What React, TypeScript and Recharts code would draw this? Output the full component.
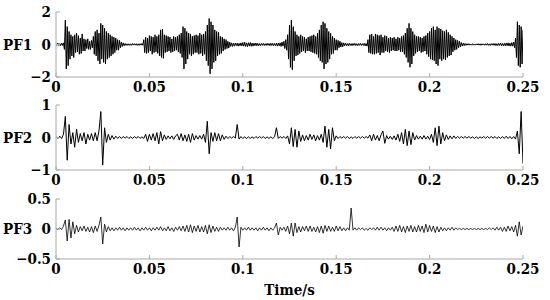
import React from 'react';
import { LineChart, Line, XAxis, YAxis, Label } from 'recharts';

// sample intervals of the recorded signals (s)
const STEP_PF1 = 0.0005;
const STEP_PF2 = 0.001;
const STEP_PF3 = 0.001;

const PF1: number[] = [
  0.06,-0.05,0.08,-0.06,0.05,-0.07,0.09,-0.06,0.1,-0.3,
  1.5,-1.5,1.1,-1.3,0.8,-0.9,0.6,-0.7,0.5,-0.8,
  0.6,-0.5,0.7,-0.45,0.55,-0.6,0.4,-0.55,0.65,-0.4,
  0.35,-0.4,0.3,-0.25,0.35,-0.3,0.2,-0.3,0.25,-0.2,
  0.5,-0.6,0.8,-0.7,0.9,-1.0,0.7,-1.2,1.3,-0.9,
  1.2,-1.1,1.0,-1.2,0.8,-0.9,0.7,-0.8,0.6,-0.7,
  0.5,-0.6,0.45,-0.5,0.4,-0.35,0.3,-0.35,0.25,-0.2,
  0.15,-0.12,0.1,-0.08,0.06,-0.05,0.04,-0.05,0.04,-0.05,
  0.04,-0.05,0.06,-0.04,0.05,-0.04,0.05,-0.06,0.04,-0.05,
  0.05,-0.04,0.06,-0.05,0.3,-0.5,0.45,-0.55,0.4,-0.5,
  0.55,-0.4,0.5,-0.6,0.45,-0.5,0.6,-0.45,0.5,-0.55,
  0.6,-0.7,0.9,-0.8,0.95,-0.85,0.6,-0.5,0.55,-0.45,
  0.5,-0.4,0.45,-0.5,0.35,-0.45,0.5,-0.4,0.45,-0.35,
  0.5,-0.45,0.6,-0.55,0.7,-0.8,1.1,-1.5,1.0,-1.2,
  0.8,-0.9,0.7,-0.6,0.65,-0.7,0.5,-0.6,0.55,-0.5,
  0.6,-0.5,0.55,-0.6,0.7,-0.55,0.6,-0.7,0.65,-0.6,
  0.8,-1.0,1.2,-1.3,1.6,-1.8,1.4,-1.5,1.2,-1.1,
  0.9,-1.0,0.8,-0.7,0.75,-0.6,0.5,-0.55,0.45,-0.4,
  0.35,-0.3,0.3,-0.25,0.2,-0.22,0.15,-0.12,0.1,-0.12,
  0.08,-0.1,0.09,-0.07,0.08,-0.1,0.07,-0.08,0.1,-0.09,
  0.12,-0.1,0.14,-0.12,0.1,-0.13,0.11,-0.1,0.12,-0.11,
  0.09,-0.1,0.08,-0.07,0.09,-0.08,0.07,-0.08,0.06,-0.07,
  0.06,-0.05,0.07,-0.06,0.05,-0.06,0.07,-0.05,0.06,-0.07,
  0.08,-0.06,0.07,-0.08,0.06,-0.07,0.08,-0.1,0.09,-0.08,
  0.1,-0.12,0.15,-0.1,0.2,-0.25,0.3,-0.35,0.6,-0.9,
  1.2,-1.4,1.5,-1.55,1.1,-1.0,0.8,-0.7,0.6,-0.65,
  0.5,-0.55,0.6,-0.45,0.5,-0.4,0.45,-0.5,0.35,-0.4,
  0.45,-0.4,0.5,-0.45,0.55,-0.5,0.6,-0.55,0.5,-0.6,
  0.7,-0.8,0.9,-1.0,1.2,-1.1,1.4,-1.5,1.3,-1.2,
  1.0,-1.1,0.8,-0.9,0.7,-0.6,0.5,-0.55,0.4,-0.35,
  0.3,-0.35,0.25,-0.2,0.2,-0.15,0.12,-0.14,0.1,-0.08,
  0.08,-0.07,0.06,-0.08,0.07,-0.06,0.05,-0.07,0.06,-0.05,
  0.07,-0.06,0.05,-0.07,0.06,-0.05,0.07,-0.06,0.05,-0.06,
  0.07,-0.08,0.06,-0.1,0.3,-0.5,0.6,-0.55,0.65,-0.6,
  0.5,-0.6,0.65,-0.55,0.6,-0.5,0.55,-0.65,0.6,-0.5,
  0.45,-0.5,0.55,-0.4,0.5,-0.45,0.4,-0.5,0.45,-0.4,
  0.4,-0.35,0.45,-0.4,0.35,-0.4,0.45,-0.35,0.4,-0.45,
  0.5,-0.45,0.55,-0.6,0.7,-0.8,1.0,-1.1,1.3,-1.4,
  1.0,-1.2,0.8,-0.7,0.6,-0.55,0.5,-0.45,0.5,-0.4,
  0.45,-0.5,0.4,-0.45,0.5,-0.4,0.55,-0.6,0.7,-0.75,
  0.8,-0.9,1.0,-0.95,1.1,-1.0,0.9,-1.2,1.1,-1.3,
  1.0,-0.9,0.95,-1.0,0.85,-0.9,0.8,-0.95,0.9,-0.8,
  0.75,-0.7,0.6,-0.65,0.5,-0.45,0.4,-0.35,0.3,-0.3,
  0.25,-0.2,0.2,-0.15,0.12,-0.1,0.08,-0.07,0.06,-0.05,
  0.05,-0.04,0.05,-0.04,0.03,-0.04,0.05,-0.04,0.03,-0.04,
  0.04,-0.03,0.05,-0.04,0.04,-0.05,0.04,-0.03,0.04,-0.05,
  0.05,-0.04,0.06,-0.05,0.04,-0.06,0.05,-0.04,0.06,-0.05,
  0.06,-0.07,0.05,-0.06,0.07,-0.06,0.08,-0.07,0.06,-0.08,
  0.07,-0.08,0.09,-0.07,0.1,-0.09,0.08,-0.1,0.12,-0.1,
  0.15,-0.2,0.4,-0.8,1.4,-1.3,1.2,-1.4,1.1,-1.2,
  0.9,
];

const PF2: number[] = [
  0.03,-0.03,0.04,-0.03,0.1,0.65,-0.7,0.4,-0.2,0.15,
  -0.3,0.25,-0.15,0.12,-0.1,0.15,-0.2,0.1,-0.08,0.12,
  -0.1,0.15,-0.1,0.2,0.8,-0.85,0.3,-0.15,0.1,-0.08,
  0.06,-0.05,0.04,-0.03,0.03,-0.03,0.03,-0.02,0.03,-0.03,
  0.02,-0.03,0.03,-0.02,0.03,-0.03,0.02,-0.03,0.1,-0.12,
  0.1,-0.08,0.12,-0.1,0.15,-0.2,0.18,-0.1,0.08,-0.06,
  0.05,-0.04,0.05,-0.06,0.05,0.1,-0.08,0.12,-0.1,0.08,
  -0.12,0.1,-0.15,0.12,-0.08,0.06,-0.05,0.06,-0.05,0.1,
  -0.15,0.5,-0.5,0.15,-0.12,0.15,-0.1,0.12,-0.1,0.08,
  -0.06,0.04,-0.03,0.03,-0.02,0.03,-0.02,0.4,-0.05,0.03,
  -0.03,0.02,-0.03,0.02,-0.03,0.02,-0.03,0.03,-0.02,0.03,
  -0.02,0.03,-0.03,0.02,-0.03,0.02,-0.03,0.02,0.3,-0.03,
  0.03,-0.02,0.03,-0.03,0.05,-0.2,0.3,-0.28,0.25,-0.3,
  0.2,-0.12,0.08,-0.1,0.06,-0.08,0.1,-0.06,0.08,-0.1,
  0.06,-0.08,0.1,-0.15,0.35,-0.3,0.25,-0.35,0.3,-0.1,
  0.05,-0.03,0.03,-0.02,0.03,-0.02,0.03,-0.03,0.02,-0.03,
  0.03,-0.02,0.03,-0.02,0.03,-0.02,0.03,-0.02,0.08,-0.1,
  0.1,-0.08,0.06,-0.1,0.08,0.2,-0.18,0.06,-0.05,0.04,
  -0.06,0.05,-0.08,0.1,-0.12,0.15,-0.2,0.25,-0.25,0.2,
  -0.22,0.15,-0.08,0.06,-0.05,0.04,-0.05,0.06,-0.05,0.04,
  -0.06,0.1,-0.15,0.3,-0.25,0.35,-0.2,0.15,-0.1,0.08,
  -0.06,0.05,-0.04,0.05,-0.03,0.03,-0.02,0.03,-0.02,0.03,
  -0.02,0.03,-0.02,0.02,-0.03,0.02,-0.03,0.02,-0.02,0.03,
  -0.02,0.03,-0.02,0.03,-0.02,0.03,-0.03,0.02,-0.03,0.03,
  -0.03,0.04,-0.03,0.03,-0.04,0.03,-0.05,0.2,-0.5,0.8,
  -0.8,
];

const PF3: number[] = [
  0.01,-0.01,0.02,-0.01,0.05,0.15,-0.2,0.16,-0.15,0.12,
  -0.08,0.06,-0.05,0.04,-0.03,0.05,-0.04,0.03,-0.05,0.04,
  -0.06,0.05,-0.04,0.06,0.2,-0.25,0.08,-0.05,0.04,-0.03,
  0.02,-0.03,0.02,-0.02,0.03,-0.02,0.02,-0.03,0.02,-0.02,
  0.02,-0.02,0.03,-0.02,0.02,-0.03,0.02,-0.02,0.03,-0.02,
  0.02,-0.03,0.02,-0.02,0.03,-0.02,0.04,-0.03,0.02,-0.03,
  0.04,-0.03,0.02,-0.04,0.03,-0.02,0.04,-0.03,0.05,-0.04,
  0.06,-0.05,0.07,-0.06,0.05,-0.04,0.06,-0.05,0.04,-0.05,
  0.06,-0.08,0.07,-0.06,0.05,-0.04,0.03,-0.04,0.03,-0.02,
  0.02,-0.02,0.03,-0.02,0.02,-0.03,0.03,0.2,-0.3,0.03,
  -0.02,0.02,-0.02,0.03,-0.02,0.02,-0.02,0.02,-0.03,0.02,
  -0.02,0.03,-0.02,0.02,-0.03,0.02,-0.02,0.02,0.1,-0.1,
  0.03,-0.02,0.03,-0.04,0.05,-0.08,0.1,-0.12,0.1,-0.06,
  0.04,-0.05,0.04,-0.03,0.05,-0.04,0.05,-0.04,0.03,-0.05,
  0.04,-0.06,0.05,-0.07,0.06,-0.04,0.05,-0.04,0.03,-0.04,
  0.05,-0.03,0.04,-0.03,0.02,-0.03,0.02,-0.02,0.35,-0.02,
  0.02,-0.02,0.02,-0.01,0.02,-0.02,0.01,-0.02,0.02,-0.01,
  0.02,-0.02,0.03,-0.02,0.03,-0.02,0.02,-0.03,0.02,-0.02,
  0.03,-0.04,0.05,-0.04,0.06,-0.05,0.04,-0.06,0.05,-0.04,
  0.06,-0.05,0.04,-0.05,0.06,-0.04,0.05,-0.06,0.08,-0.05,
  0.06,-0.04,0.05,-0.06,0.04,-0.05,0.03,-0.03,0.02,-0.03,
  0.02,-0.02,0.03,-0.02,0.02,-0.01,0.01,-0.01,0.01,-0.01,
  0.01,-0.01,0.01,-0.01,0.01,-0.01,0.01,-0.01,0.01,-0.01,
  0.01,-0.01,0.02,-0.01,0.02,-0.02,0.03,-0.02,0.03,-0.04,
  0.03,-0.04,0.05,-0.03,0.04,-0.05,0.06,-0.12,0.12,-0.1,
  0.05,
];

const X_TICKS = [0, 0.05, 0.1, 0.15, 0.2, 0.25];
const PF1_TICKS = [-2, 0, 2];
const PF2_TICKS = [-1, 0, 1];
const PF3_TICKS = [-0.5, 0, 0.5];
const LABELS = ['PF1', 'PF2', 'PF3'];
const X_LABEL = 'Time/s';

const toRows = (vals: number[], step: number) =>
  vals.map((v, i) => ({ t: +(i * step).toFixed(4), v }));

const FONT = '"DejaVu Serif Condensed", "DejaVu Serif", serif';
const textStyle = { fontFamily: FONT, fontWeight: 700, fontSize: 15, fill: '#000', fontStretch: 'condensed' };
const BOX = '#a8a8a8';
const fmt = (v: number) => (v < 0 ? '\u2212' + String(Math.abs(v)) : String(v));

interface PanelProps {
  vals: number[];
  step: number;
  ticks: number[];
  label: string;
  top: number;
  height: number;
  marginTop: number;
  xAxisHeight: number;
  strokeWidth: number;
  xLabel?: string;
}

function Panel({ vals, step, ticks, label, top, height, marginTop, xAxisHeight, strokeWidth, xLabel }: PanelProps) {
  const dom: [number, number] = [ticks[0], ticks[ticks.length - 1]];
  return (
    <div style={{ position: 'absolute', left: 0, top, width: 550, height }}>
      <LineChart
        width={550}
        height={height}
        data={toRows(vals, step)}
        margin={{ top: marginTop, right: 27, bottom: 0, left: 0 }}
      >
        <XAxis
          xAxisId="b"
          dataKey="t"
          type="number"
          domain={[0, 0.25]}
          ticks={X_TICKS}
          height={xAxisHeight}
          tick={{ style: textStyle }}
          tickFormatter={(v: number) => String(v)}
          tickSize={-4}
          tickMargin={8}
          tickLine={{ stroke: BOX }}
          axisLine={{ stroke: BOX }}
          interval={0}
          allowDataOverflow
        >
          {xLabel ? (
            <Label value={xLabel} position="insideBottom" offset={5} style={textStyle} />
          ) : null}
        </XAxis>
        <XAxis
          xAxisId="top"
          orientation="top"
          type="number"
          dataKey="t"
          domain={[0, 0.25]}
          ticks={X_TICKS}
          height={0}
          tick={false}
          tickSize={-4}
          tickLine={{ stroke: BOX }}
          axisLine={{ stroke: BOX }}
          interval={0}
        />
        <YAxis
          yAxisId="l"
          type="number"
          domain={dom}
          ticks={ticks}
          width={56}
          tick={{ style: textStyle }}
          tickFormatter={fmt}
          tickSize={-4}
          tickMargin={9}
          tickLine={{ stroke: BOX }}
          axisLine={{ stroke: BOX }}
          interval={0}
          allowDataOverflow
        >
          <Label value={label} position="insideLeft" offset={3} style={textStyle} />
        </YAxis>
        <YAxis
          yAxisId="r"
          orientation="right"
          type="number"
          domain={dom}
          ticks={ticks}
          width={0}
          tick={false}
          tickLine={false}
          axisLine={{ stroke: BOX }}
        />
        <Line
          xAxisId="b"
          yAxisId="l"
          dataKey="v"
          type="linear"
          stroke="#000"
          strokeWidth={strokeWidth}
          dot={false}
          activeDot={false}
          isAnimationActive={false}
        />
      </LineChart>
    </div>
  );
}

export default function App() {
  return (
    <div style={{ position: 'absolute', left: 0, top: 0, width: 550, height: 300, background: '#fff', overflow: 'hidden' }}>
      <Panel vals={PF1} step={STEP_PF1} ticks={PF1_TICKS} label={LABELS[0]} top={0} height={100} marginTop={12} xAxisHeight={23} strokeWidth={1} />
      <Panel vals={PF2} step={STEP_PF2} ticks={PF2_TICKS} label={LABELS[1]} top={95} height={100} marginTop={10} xAxisHeight={25} strokeWidth={1} />
      <Panel vals={PF3} step={STEP_PF3} ticks={PF3_TICKS} label={LABELS[2]} top={190} height={110} marginTop={9} xAxisHeight={41} strokeWidth={0.8} xLabel={X_LABEL} />
    </div>
  );
}
